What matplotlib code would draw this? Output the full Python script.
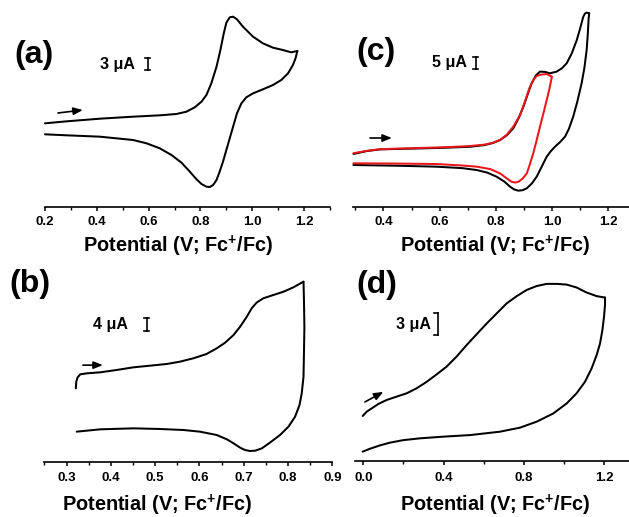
import matplotlib
matplotlib.use('Agg')
import matplotlib.pyplot as plt
from matplotlib.ticker import MultipleLocator, FormatStrFormatter

plt.rcParams['font.family'] = ['Liberation Sans', 'DejaVu Sans']
plt.rcParams['font.weight'] = 'bold'
plt.rcParams['mathtext.fontset'] = 'custom'
plt.rcParams['mathtext.rm'] = 'Liberation Sans:bold'
plt.rcParams['mathtext.bf'] = 'Liberation Sans:bold'
plt.rcParams['mathtext.it'] = 'Liberation Sans:bold'

# ---------------- data (potential in V vs Fc+/Fc, current in uA, arbitrary offset) -------------
# panel (a)
a_fwd_v = [0.200, 0.284, 0.412, 0.540, 0.643, 0.707, 0.746, 0.778, 0.804, 0.823, 0.842, 0.862, 0.877,
           0.890, 0.900, 0.913, 0.926, 0.941, 0.964, 1.003, 1.041, 1.080, 1.118, 1.150, 1.174]
a_fwd_i = [20.92, 21.42, 22.08, 22.58, 22.92, 23.25, 23.83, 24.92, 26.33, 28.0, 30.92, 35.08, 39.25,
           43.42, 46.08, 47.42, 47.58, 46.92, 45.08, 42.58, 40.92, 39.83, 39.25, 38.67, 39.0]
a_rev_v = [1.174, 1.167, 1.157, 1.138, 1.112, 1.080, 1.041, 1.003, 0.977, 0.958, 0.941, 0.926, 0.913,
           0.900, 0.887, 0.874, 0.862, 0.849, 0.836, 0.823, 0.804, 0.785, 0.759, 0.727, 0.688, 0.643,
           0.592, 0.540, 0.412, 0.284, 0.200]
a_rev_i = [39.0, 37.17, 35.5, 33.42, 31.75, 30.5, 29.42, 28.42, 27.42, 25.92, 23.42, 20.08, 17.17,
           14.25, 11.33, 8.83, 6.75, 5.5, 5.0, 5.08, 5.75, 6.92, 8.83, 11.08, 13.0, 14.67,
           15.92, 16.75, 17.58, 17.92, 18.17]

# panel (b)
b_fwd_v = [0.321, 0.322, 0.325, 0.331, 0.346, 0.376, 0.413, 0.451, 0.489, 0.526, 0.556, 0.586, 0.616,
           0.639, 0.658, 0.677, 0.692, 0.707, 0.718, 0.729, 0.744, 0.767, 0.790, 0.812, 0.835]
b_fwd_i = [22.03, 24.03, 25.34, 26.24, 26.54, 26.84, 27.54, 28.34, 28.84, 29.34, 30.04, 31.04, 32.34,
           34.04, 35.74, 38.05, 40.55, 43.55, 46.06, 47.76, 49.06, 50.06, 51.06, 52.36, 54.06]
b_rev_v = [0.835, 0.836, 0.837, 0.836, 0.835, 0.831, 0.826, 0.816, 0.801, 0.782, 0.759, 0.741, 0.726,
           0.714, 0.703, 0.692, 0.677, 0.662, 0.639, 0.601, 0.564, 0.511, 0.451, 0.376, 0.323]
b_rev_i = [54.06, 48.56, 40.55, 32.54, 25.53, 20.53, 17.03, 13.52, 10.52, 8.02, 5.71, 4.01, 3.31,
           3.21, 3.51, 4.21, 5.52, 6.72, 8.02, 9.02, 9.52, 9.82, 10.02, 9.72, 9.02]

# panel (c) black: full scan to 1.13 V
c1_fwd_v = [0.293, 0.340, 0.388, 0.450, 0.530, 0.620, 0.708, 0.760, 0.790, 0.815, 0.840, 0.862, 0.880,
            0.898, 0.912, 0.927, 0.942, 0.957, 0.975, 0.992, 1.016, 1.035, 1.052, 1.070, 1.088, 1.100,
            1.111, 1.117, 1.123, 1.132]
c1_fwd_i = [22.1, 23.3, 24.0, 24.2, 24.4, 24.7, 25.1, 25.8, 26.7, 27.9, 30.0, 32.8, 36.8,
            41.8, 46.6, 51.5, 54.8, 56.4, 56.3, 55.7, 56.4, 57.8, 59.9, 64.0, 69.6, 74.5,
            79.3, 80.6, 81.0, 80.7]
c1_rev_v = [1.132, 1.130, 1.127, 1.123, 1.115, 1.105, 1.090, 1.075, 1.060, 1.046, 1.028, 1.010, 0.995,
            0.981, 0.963, 0.945, 0.928, 0.910, 0.895, 0.880, 0.865, 0.850, 0.830, 0.803, 0.770, 0.732,
            0.680, 0.589, 0.450, 0.293]
c1_rev_i = [80.7, 78.5, 72.0, 65.4, 58.0, 51.5, 44.0, 37.6, 32.6, 29.3, 27.0, 25.1, 23.2,
            21.0, 16.8, 12.6, 9.8, 7.8, 7.0, 6.8, 7.3, 8.5, 10.6, 12.6, 14.3, 15.4,
            16.2, 16.8, 17.2, 17.5]
# panel (c) red: scan reversed at 1.0 V
c2_fwd_v = [0.293, 0.340, 0.388, 0.500, 0.620, 0.708, 0.760, 0.791, 0.815, 0.838, 0.862, 0.886, 0.905,
            0.921, 0.935, 0.945, 0.963, 0.981, 0.999]
c2_fwd_i = [22.4, 23.4, 24.1, 24.5, 24.9, 25.4, 26.0, 26.8, 28.0, 30.0, 33.5, 38.3, 44.5,
            50.1, 53.2, 54.6, 55.2, 55.4, 54.3]
c2_rev_v = [0.999, 0.997, 0.990, 0.981, 0.969, 0.957, 0.945, 0.933, 0.920, 0.910, 0.895, 0.880,
            0.868, 0.856, 0.840, 0.815, 0.780, 0.732, 0.680, 0.589, 0.450, 0.293]
c2_rev_i = [54.3, 52.9, 49.0, 44.6, 39.0, 33.5, 27.8, 22.4, 17.5, 14.0, 11.8, 10.5,
            10.2, 10.5, 11.8, 14.0, 15.8, 16.8, 17.3, 17.9, 18.1, 18.2]

# panel (d)
d_fwd_v = [-0.003, 0.017, 0.042, 0.075, 0.116, 0.166, 0.216, 0.266, 0.316, 0.366, 0.415, 0.465, 0.515,
           0.565, 0.615, 0.665, 0.715, 0.765, 0.814, 0.864, 0.914, 0.964, 1.014, 1.063, 1.113, 1.163,
           1.205]
d_fwd_i = [6.25, 6.85, 7.31, 7.92, 8.47, 8.94, 9.4, 10.1, 11.0, 12.04, 13.1, 14.5, 16.1,
           17.6, 19.1, 20.5, 21.9, 22.9, 23.75, 24.3, 24.6, 24.6, 24.5, 24.1, 23.4, 22.9,
           22.7]
d_rev_v = [1.205, 1.205, 1.200, 1.192, 1.180, 1.163, 1.138, 1.105, 1.063, 1.014, 0.947, 0.864, 0.781,
           0.681, 0.532, 0.399, 0.283, 0.200, 0.133, 0.083, 0.033, -0.003]
d_rev_i = [22.7, 21.7, 20.05, 18.2, 16.3, 14.7, 12.85, 11.0, 9.4, 8.0, 6.6, 5.46, 4.63,
           4.07, 3.6, 3.38, 3.15, 2.9, 2.55, 2.17, 1.7, 1.3]

panel_labels = ['(a)', '(b)', '(c)', '(d)']
scale_text = ['3 \u03bcA', '4 \u03bcA', '5 \u03bcA', '3 \u03bcA']
scale_val = [3, 4, 5, 3]
xlabel = r'Potential (V; Fc$^{\mathbf{+}}$/Fc)'

# ---------------- layout helpers ----------------
W, H = 629, 517
fig = plt.figure(figsize=(W / 100, H / 100), dpi=100)


def add_ax(left, right, bottom, top):
    return fig.add_axes([left / W, 1 - bottom / H, (right - left) / W, (bottom - top) / H])


def style(ax, xlim, ylim, major, minor, pad):
    ax.set_xlim(*xlim)
    ax.set_ylim(*ylim)
    for s in ['left', 'right', 'top']:
        ax.spines[s].set_visible(False)
    ax.spines['bottom'].set_linewidth(1.2)
    ax.set_yticks([])
    ax.xaxis.set_major_locator(MultipleLocator(major))
    ax.xaxis.set_minor_locator(MultipleLocator(minor))
    ax.xaxis.set_major_formatter(FormatStrFormatter('%.1f'))
    ax.tick_params(axis='x', which='major', direction='out', length=3.2, width=1.1,
                   labelsize=9.5, pad=pad)
    ax.tick_params(axis='x', which='minor', direction='out', length=2.0, width=1.0)
    for t in ax.get_xticklabels():
        t.set_fontweight('bold')
    ax.patch.set_alpha(0)


lw = 1.45
kw = dict(lw=lw, clip_on=False, solid_joinstyle='round', solid_capstyle='round')

# (a)
axa = add_ax(45, 330, 207, 0)
style(axa, (0.2, 1.3), (0, 207 / 4), 0.2, 0.1, 3.5)
axa.plot(a_fwd_v, a_fwd_i, color='k', **kw)
axa.plot(a_rev_v, a_rev_i, color='k', **kw)

# (c)
axc = add_ax(352.7, 629, 207, 0)
style(axc, (0.2904, 1.2737), (0, 207 / 2.4), 0.2, 0.1, 3.5)
axc.set_xticks([0.4, 0.6, 0.8, 1.0, 1.2])
axc.plot(c1_fwd_v, c1_fwd_i, color='k', **kw)
axc.plot(c1_rev_v, c1_rev_i, color='k', **kw)
axc.plot(c2_fwd_v, c2_fwd_i, color='#e8161b', **kw)
axc.plot(c2_rev_v, c2_rev_i, color='#e8161b', **kw)

# (b)
axb = add_ax(44.4, 332.3, 461.7, 250)
style(axb, (0.25, 0.9), (0, 211.7 / 3.33), 0.1, 0.05, 4.5)
axb.plot(b_fwd_v, b_fwd_i, color='k', **kw)
axb.plot(b_rev_v, b_rev_i, color='k', **kw)

# (d)
axd = add_ax(355, 629, 461, 250)
style(axd, (-0.0414, 1.3245), (0, 211 / 7.2), 0.4, 0.2, 4.5)
axd.plot(d_fwd_v, d_fwd_i, color='k', **kw)
axd.plot(d_rev_v, d_rev_i, color='k', **kw)

# ---------------- annotations ----------------
arrow_kw = dict(arrowstyle='-|>,head_length=0.55,head_width=0.22', color='k', lw=1.2, shrinkA=0, shrinkB=0)
axa.annotate('', xy=(0.346, 24.25), xytext=(0.250, 23.5), arrowprops=arrow_kw)
axc.annotate('', xy=(0.430, 28.75), xytext=(0.352, 28.75), arrowprops=arrow_kw)
axb.annotate('', xy=(0.382, 29.0), xytext=(0.337, 29.0), arrowprops=arrow_kw)
axd.annotate('', xy=(0.100, 9.6), xytext=(0.008, 8.2), arrowprops=arrow_kw)


# scale bars
def ibar(ax, x, yc, h, capw, left_only=False):
    ax.plot([x, x], [yc - h / 2, yc + h / 2], color='k', lw=1.2, clip_on=False)
    for y in (yc - h / 2, yc + h / 2):
        if left_only:
            ax.plot([x - capw, x], [y, y], color='k', lw=1.2, clip_on=False)
        else:
            ax.plot([x - capw / 2, x + capw / 2], [y, y], color='k', lw=1.2, clip_on=False)


fs_s = 11.5
ibar(axa, 0.597, 35.75, scale_val[0], 0.02)
axa.text(0.478, 35.75, scale_text[0], ha='center', va='center', fontsize=fs_s, fontweight='bold')
ibar(axb, 0.481, 41.3, scale_val[1], 0.012)
axb.text(0.398, 41.3, scale_text[1], ha='center', va='center', fontsize=fs_s, fontweight='bold')
ibar(axc, 0.729, 60.0, scale_val[2], 0.018)
axc.text(0.634, 60.0, scale_text[2], ha='center', va='center', fontsize=fs_s, fontweight='bold')
ibar(axd, 0.374, 19.0, scale_val[3], 0.022, left_only=True)
axd.text(0.252, 19.0, scale_text[3], ha='center', va='center', fontsize=fs_s, fontweight='bold')

# panel labels
for lab, (x, y) in zip(panel_labels, [(34, 55), (30, 284), (376, 52), (377, 285)]):
    fig.text(x / W, 1 - y / H, lab, ha='center', va='center', fontsize=23, fontweight='bold')

# x labels
for (x, y) in [(178, 246), (495, 246), (157, 505), (495, 505)]:
    fig.text(x / W, 1 - y / H, xlabel, ha='center', va='center', fontsize=14.3, fontweight='bold')

fig.savefig('out.png', dpi=100, facecolor='white')
